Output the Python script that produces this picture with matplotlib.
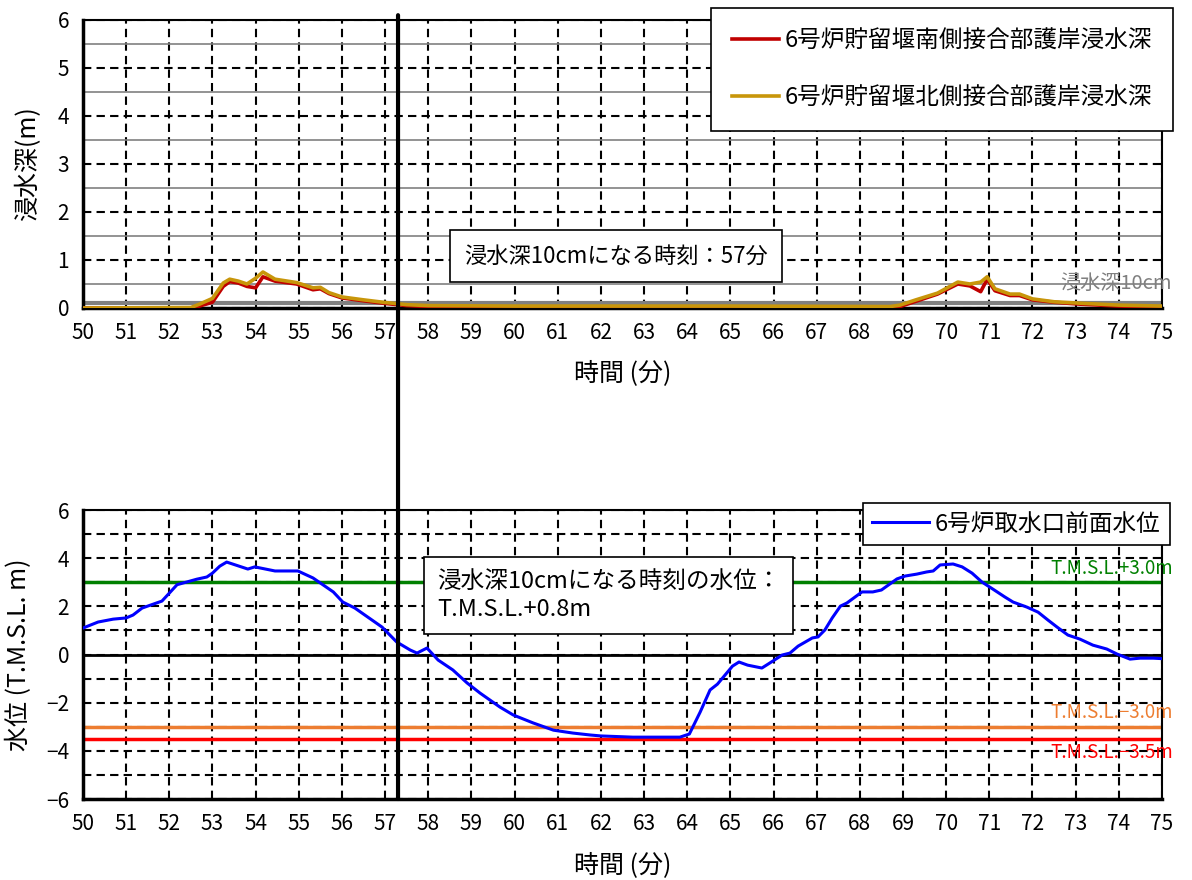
import matplotlib
matplotlib.use("Agg")
import matplotlib.pyplot as plt
from matplotlib.patches import ConnectionPatch

plt.rcParams['font.family'] = ['Noto Sans CJK JP', 'DejaVu Sans']

# top chart: inundation depth (m)
depth_t = [50, 52.5, 52.7, 53.0, 53.25, 53.4, 53.6, 53.8, 54.0, 54.17, 54.45, 54.95, 55.33,
           55.5, 55.7, 56.0, 56.5, 56.95, 57.5, 58, 60, 65, 68.7, 68.93, 69.3, 69.8, 70.27,
           70.55, 70.8, 70.95, 71.13, 71.48, 71.7, 72.0, 72.5, 73.1, 74, 75]
south_depth = [0, 0, 0.04, 0.12, 0.45, 0.55, 0.52, 0.45, 0.42, 0.65, 0.56, 0.5, 0.38,
               0.4, 0.3, 0.21, 0.15, 0.1, 0.05, 0.03, 0.02, 0.02, 0.0, 0.03, 0.14, 0.29, 0.5,
               0.46, 0.34, 0.6, 0.36, 0.26, 0.26, 0.17, 0.12, 0.08, 0.04, 0.02]
north_depth = [0, 0.01, 0.08, 0.2, 0.52, 0.6, 0.56, 0.5, 0.62, 0.75, 0.6, 0.53, 0.42,
               0.43, 0.32, 0.23, 0.17, 0.12, 0.07, 0.05, 0.04, 0.04, 0.03, 0.06, 0.17, 0.31, 0.54,
               0.5, 0.54, 0.65, 0.4, 0.29, 0.29, 0.19, 0.13, 0.1, 0.06, 0.04]

# bottom chart: water level at intake (T.M.S.L. m)
level_t = [50, 50.35, 50.7, 51.0, 51.16, 51.37, 51.83, 52.0, 52.18, 52.64, 52.87, 53.0, 53.17,
           53.33, 53.82, 53.98, 54.45, 54.98, 55.33, 55.8, 56.02, 56.3, 56.93, 57.27, 57.58,
           57.74, 57.97, 58.23, 58.57, 58.9, 59.2, 59.66, 59.97, 60.43, 60.9, 61.35, 61.75,
           62.0, 62.74, 63.83, 64.05, 64.3, 64.53, 64.7, 65.05, 65.2, 65.4, 65.73, 65.88,
           66.2, 66.38, 66.57, 66.9, 67.03, 67.19, 67.36, 67.55, 67.7, 68.05, 68.3, 68.5,
           68.86, 69.05, 69.32, 69.55, 69.7, 69.86, 70.16, 70.37, 70.6, 70.83, 71.08, 71.36,
           71.55, 71.87, 72.13, 72.36, 72.57, 72.82, 73.1, 73.4, 73.72, 73.96, 74.26, 74.49,
           74.8, 75]
level = [1.1, 1.35, 1.47, 1.52, 1.64, 1.93, 2.22, 2.55, 2.9, 3.13, 3.22, 3.38, 3.67,
         3.84, 3.55, 3.64, 3.47, 3.47, 3.18, 2.6, 2.18, 1.93, 1.14, 0.52, 0.19,
         0.06, 0.27, -0.23, -0.64, -1.18, -1.6, -2.18, -2.51, -2.84, -3.14, -3.26, -3.34,
         -3.38, -3.43, -3.43, -3.3, -2.39, -1.47, -1.23, -0.48, -0.31, -0.44, -0.56, -0.39,
         -0.02, 0.06, 0.35, 0.69, 0.73, 1.02, 1.52, 2.01, 2.14, 2.6, 2.6, 2.68,
         3.14, 3.26, 3.34, 3.43, 3.47, 3.72, 3.76, 3.64, 3.38, 3.01, 2.72, 2.39,
         2.18, 1.97, 1.76, 1.43, 1.14, 0.81, 0.64, 0.39, 0.23, 0.02, -0.19, -0.15,
         -0.15, -0.17]

ref_levels = [3.0, -3.0, -3.5]
ref_labels = ['T.M.S.L.+3.0m', 'T.M.S.L.\u22123.0m', 'T.M.S.L.\u22123.5m']
ref_colors = ['#008000', '#ED7D31', '#FF0000']
t_mark = 57.3
x_ticks = list(range(50, 76))

fig = plt.figure(figsize=(11.92, 8.8), dpi=100)
ax1 = fig.add_axes([0.0696, 0.65, 0.9052, 0.3273])
ax2 = fig.add_axes([0.0696, 0.092, 0.9052, 0.3284])

dash = (0, (4, 2.5))

# ---- top chart
ax1.set_xlim(50, 75)
ax1.set_ylim(0, 6)
ax1.set_xticks(x_ticks)
ax1.set_yticks(range(0, 7))
ax1.set_yticks([0.5, 1.5, 2.5, 3.5, 4.5, 5.5], minor=True)
ax1.grid(True, which='major', color='black', linestyle=dash, linewidth=1.5)
ax1.grid(True, which='minor', axis='y', color='#808080', linestyle='-', linewidth=1.2)
ax1.tick_params(which='both', length=0, labelsize=15, pad=10)
ax1.axhline(0.1, color='#808080', linewidth=3, zorder=2)
ax1.text(75.23, 0.52, '浸水深10cm', color='#808080', fontsize=14.5, ha='right', va='center',
         clip_on=False)
ax1.plot(depth_t, south_depth, color='#C00000', linewidth=2.6, label='6号炉貯留堰南側接合部護岸浸水深', zorder=3)
ax1.plot(depth_t, north_depth, color='#C8960A', linewidth=2.6, label='6号炉貯留堰北側接合部護岸浸水深', zorder=4)
ax1.set_xlabel('時間 (分)', fontsize=18, labelpad=12)
ax1.set_ylabel('浸水深(m)', fontsize=18, labelpad=12)
leg1 = ax1.legend(loc='upper right', bbox_to_anchor=(1.0102, 1.0417), borderaxespad=0,
                  fontsize=17, frameon=True, fancybox=False, edgecolor='black', framealpha=1,
                  handlelength=2.0, labelspacing=1.45, borderpad=0.9, handletextpad=0.2)
leg1.get_frame().set_linewidth(1.2)
ax1.text(62.35, 1.08, '浸水深10cmになる時刻：57分', fontsize=16, ha='center', va='center',
         bbox=dict(boxstyle='square,pad=0.65', facecolor='white', edgecolor='black', linewidth=1.2),
         zorder=6)

# ---- bottom chart
ax2.set_xlim(50, 75)
ax2.set_ylim(-6, 6)
ax2.set_xticks(x_ticks)
ax2.set_yticks(range(-6, 7, 2))
ax2.set_yticks(range(-5, 6, 2), minor=True)
ax2.grid(True, which='both', color='black', linestyle=dash, linewidth=1.5)
ax2.tick_params(which='both', length=0, labelsize=15, pad=10)
ax2.axhline(0, color='black', linewidth=2, zorder=2)
for lv, lab, col in zip(ref_levels, ref_labels, ref_colors):
    ax2.axhline(lv, color=col, linewidth=2.5, zorder=2)
for lv, lab, col in zip(ref_levels, ref_labels, ref_colors):
    off = -0.15 if lv == -3.5 else 0.15
    va = 'top' if lv == -3.5 else 'bottom'
    ax2.text(75.25, lv + off, lab, color=col, fontsize=13.5, ha='right', va=va, clip_on=False, zorder=3)
ax2.plot(level_t, level, color='#0000FF', linewidth=2.2, label='6号炉取水口前面水位', zorder=4)
ax2.set_xlabel('時間 (分)', fontsize=18, labelpad=12)
ax2.set_ylabel('水位 (T.M.S.L. m)', fontsize=18, labelpad=10)
leg2 = ax2.legend(loc='upper right', bbox_to_anchor=(1.0074, 1.024), borderaxespad=0,
                  fontsize=17, frameon=True, fancybox=False, edgecolor='black', framealpha=1,
                  handlelength=2.4, borderpad=0.4, handletextpad=0.25)
leg2.get_frame().set_linewidth(1.2)
ax2.text(58.2, 2.45, '浸水深10cmになる時刻の水位：\nT.M.S.L.+0.8m', fontsize=17, ha='left', va='center',
         linespacing=1.25,
         bbox=dict(boxstyle='square,pad=0.55', facecolor='white', edgecolor='black', linewidth=1.2),
         zorder=6)

for ax in (ax1, ax2):
    for side in ('left', 'bottom'):
        ax.spines[side].set_linewidth(2.5)
    for side in ('top', 'right'):
        ax.spines[side].set_linewidth(1.5)
    ax.set_axisbelow(True)

# vertical marker line spanning both charts
con = ConnectionPatch(xyA=(t_mark, 6.1), coordsA=ax1.transData,
                      xyB=(t_mark, -6), coordsB=ax2.transData,
                      color='black', linewidth=3, zorder=10)
fig.add_artist(con)

fig.savefig('out.png', dpi=100)
